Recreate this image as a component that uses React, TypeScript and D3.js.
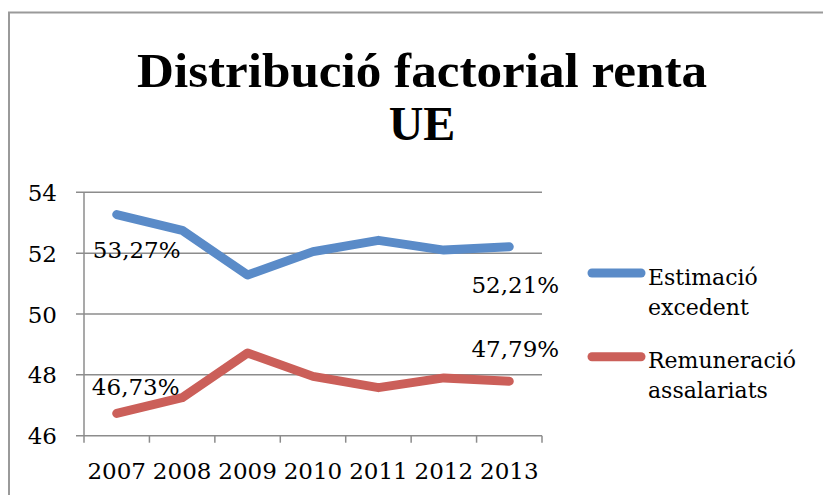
import React from "react";
import * as d3 from "d3";

const years = ["2007", "2008", "2009", "2010", "2011", "2012", "2013"];
const excedent = [53.27, 52.75, 51.28, 52.05, 52.42, 52.1, 52.21];
const remuneracio = [46.73, 47.25, 48.72, 47.95, 47.58, 47.9, 47.79];
const yTicks = [46, 48, 50, 52, 54];
const titleLines = ["Distribució factorial renta", "UE"];
const seriesNames = [["Estimació", "excedent"], ["Remuneració", "assalariats"]];
const colors = ["#5A8BC8", "#CB5F59"];

export default function App() {
  const W = 823, H = 495;
  const left = 84, right = 542, top = 192.3, bottom = 435.7;
  const x = d3.scaleBand().domain(years).range([left, right]);
  const y = d3.scaleLinear().domain([46, 54]).range([bottom, top]);
  const line = d3
    .line<number>()
    .x((_, i) => (x(years[i]) as number) + x.bandwidth() / 2)
    .y((d) => y(d));
  const font = "'DejaVu Serif', serif";
  const fs = 23;
  const cx = (i: number) => (x(years[i]) as number) + x.bandwidth() / 2;
  const last = years.length - 1;
  const series = [excedent, remuneracio];
  const boundaries = years.map((yr) => x(yr) as number).concat([right]);
  const fmt = (v: number) => v.toFixed(2).replace(".", ",") + "%";

  return (
    <svg
      width={W}
      height={H}
      style={{ position: "absolute", left: 0, top: 0, background: "#fff" }}
    >
      <rect x={9} y={12.5} width={900} height={700} fill="#fff" stroke="#9a9a9a" strokeWidth={2} />
      {titleLines.map((t, i) => (
        <text
          key={t}
          x={422}
          y={87 + i * 53}
          textAnchor="middle"
          fontFamily="'Liberation Serif', serif"
          fontWeight="bold"
          fontSize={48}
          {...(i === 0 ? { textLength: 570, lengthAdjust: "spacingAndGlyphs" } : {})}
        >
          {t}
        </text>
      ))}
      {yTicks.map((t) => (
        <g key={t}>
          <line x1={left - 8} x2={right} y1={y(t)} y2={y(t)} stroke="#8c8c8c" strokeWidth={1.5} />
          <text x={57} y={y(t) + 8.5} textAnchor="end" fontFamily={font} fontSize={fs}>
            {t}
          </text>
        </g>
      ))}
      <line x1={left} x2={left} y1={top} y2={bottom} stroke="#8c8c8c" strokeWidth={1.5} />
      {boundaries.map((b, i) => (
        <line key={i} x1={b} x2={b} y1={bottom} y2={bottom + 7} stroke="#8c8c8c" strokeWidth={1.5} />
      ))}
      {years.map((yr, i) => (
        <text key={yr} x={cx(i)} y={479} textAnchor="middle" fontFamily={font} fontSize={fs}>
          {yr}
        </text>
      ))}
      {series.map((s, k) => (
        <path
          key={k}
          d={line(s) as string}
          fill="none"
          stroke={colors[k]}
          strokeWidth={9}
          strokeLinejoin="round"
          strokeLinecap="round"
        />
      ))}
      <text x={cx(0) + 20} y={y(excedent[0]) + 43.5} textAnchor="middle" fontFamily={font} fontSize={fs}>
        {fmt(excedent[0])}
      </text>
      <text x={cx(0) + 19} y={y(remuneracio[0]) - 18.5} textAnchor="middle" fontFamily={font} fontSize={fs}>
        {fmt(remuneracio[0])}
      </text>
      <text x={cx(last) + 6} y={y(excedent[last]) + 46} textAnchor="middle" fontFamily={font} fontSize={fs}>
        {fmt(excedent[last])}
      </text>
      <text x={cx(last) + 6} y={y(remuneracio[last]) - 24.5} textAnchor="middle" fontFamily={font} fontSize={fs}>
        {fmt(remuneracio[last])}
      </text>
      {seriesNames.map((names, k) => (
        <g key={k}>
          <line
            x1={592}
            x2={641}
            y1={273 + k * 83.7}
            y2={273 + k * 83.7}
            stroke={colors[k]}
            strokeWidth={9}
            strokeLinecap="round"
          />
          {names.map((n, j) => (
            <text key={n} x={648} y={285 + k * 83 + j * 30} fontFamily={font} fontSize={22}>
              {n}
            </text>
          ))}
        </g>
      ))}
    </svg>
  );
}
